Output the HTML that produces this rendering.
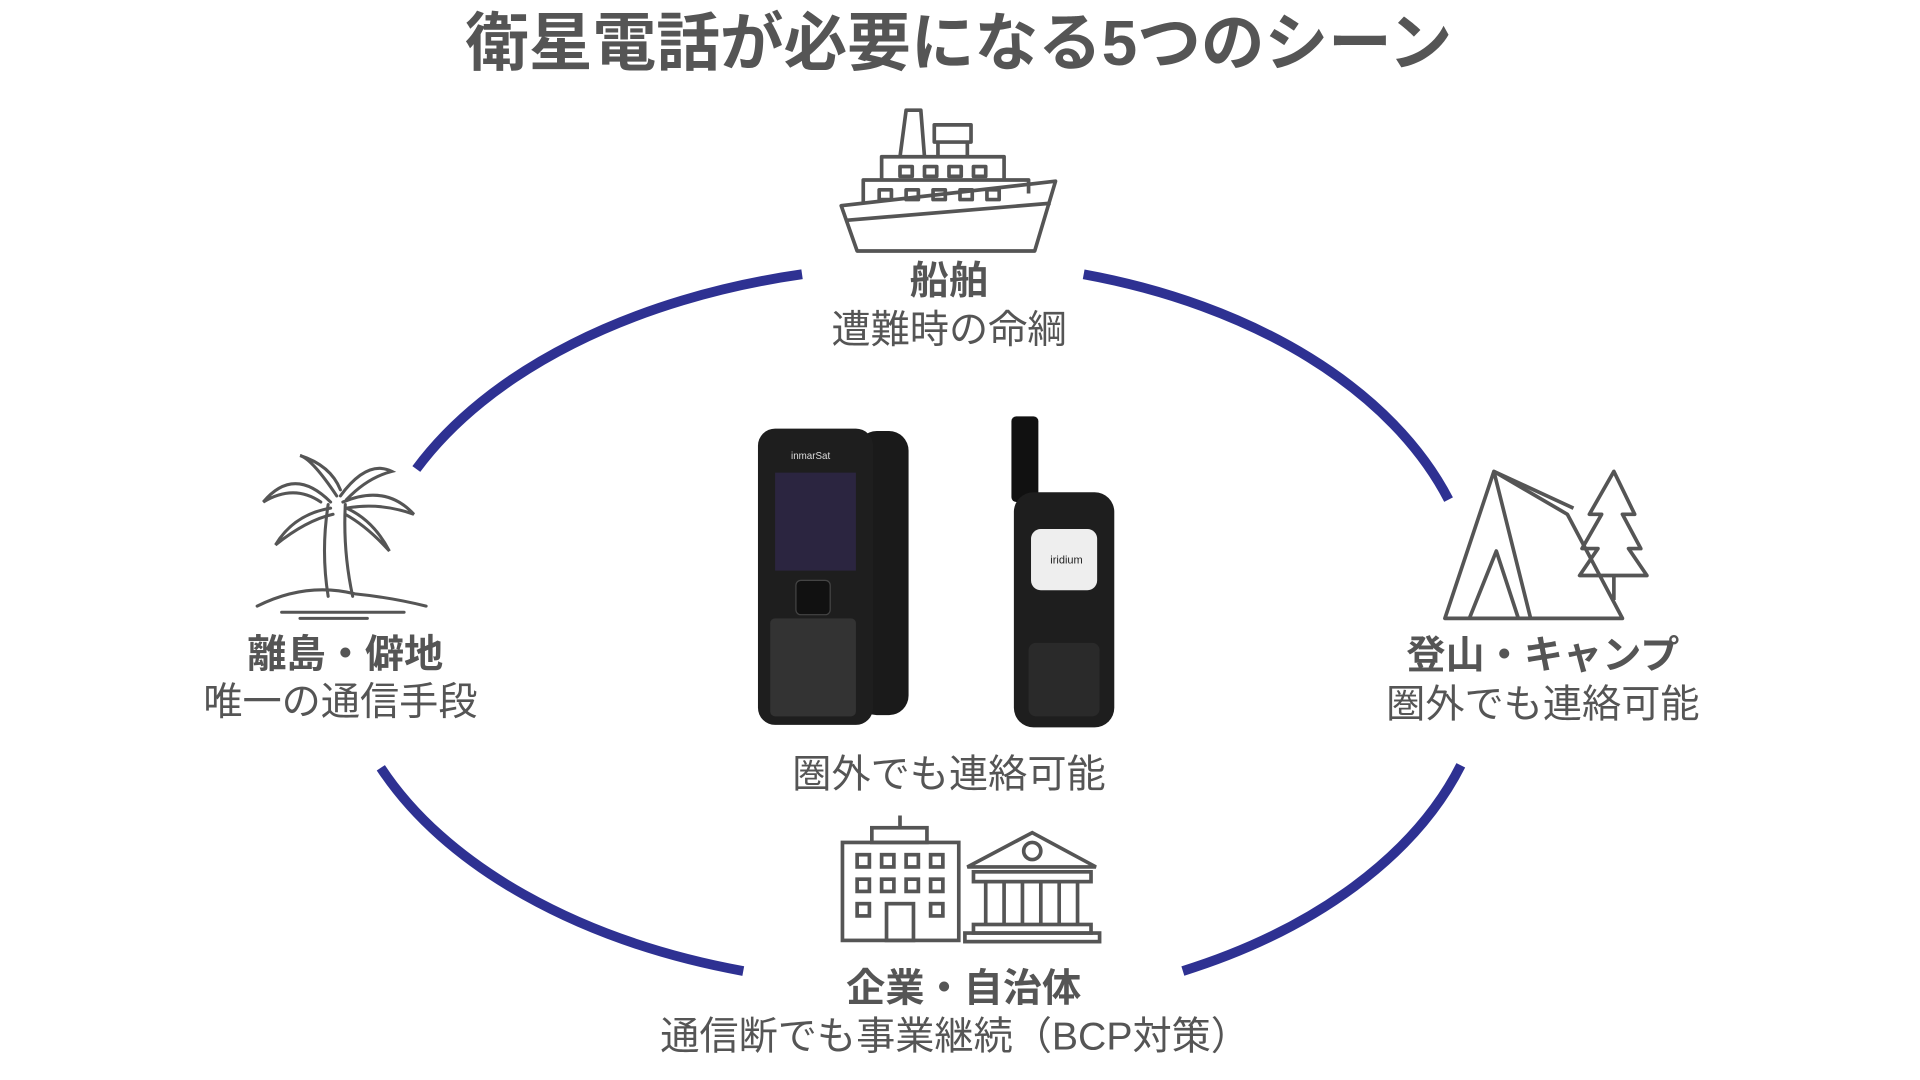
<!DOCTYPE html>
<html><head><meta charset="utf-8"><style>
html,body{margin:0;padding:0;background:#fff;width:1920px;height:1080px;overflow:hidden}
svg{display:block}
text{font-family:"Liberation Sans","Noto Sans CJK JP",sans-serif;fill:#555}
.b{font-weight:bold}
</style></head><body>
<svg width="1920" height="1080" viewBox="0 0 1568 882" xmlns="http://www.w3.org/2000/svg">
<text x="783" y="53" text-anchor="middle" font-size="52" class="b">衛星電話が必要になる5つのシーン</text>

<g fill="none" stroke="#2e3192" stroke-width="8">
<path d="M340,383 A460 285 0 0 1 655,224"/>
<path d="M885,224 A440 285 0 0 1 1183,408"/>
<path d="M311,627 A460 285 0 0 0 607,793"/>
<path d="M966,793 A440 285 0 0 0 1193,625"/>
</g>

<!-- ship -->
<g fill="none" stroke="#555" stroke-width="3" stroke-linejoin="round">
<path d="M687,168 L862,148 L845,205 L700,205 Z"/>
<path d="M690,180 L858,166"/>
<path d="M705,165 L705,147 L840,147 L840,158"/>
<path d="M720,147 L720,128 L820,128 L820,147"/>
<path d="M735,128 L740,90 L752,90 L755,128"/>
<rect x="763" y="102" width="30" height="14"/>
<path d="M766,116 L766,128 M790,116 L790,128"/>
<rect x="735" y="136" width="10" height="8"/><rect x="755" y="136" width="10" height="8"/><rect x="775" y="136" width="10" height="8"/><rect x="795" y="136" width="10" height="8"/>
<rect x="718" y="155" width="10" height="8"/><rect x="740" y="155" width="10" height="8"/><rect x="762" y="155" width="10" height="8"/><rect x="784" y="155" width="10" height="8"/><rect x="806" y="155" width="10" height="8"/>
</g>
<text x="775" y="240" text-anchor="middle" font-size="32" class="b">船舶</text>
<text x="775" y="280" text-anchor="middle" font-size="32">遭難時の命綱</text>

<!-- palm -->
<g fill="none" stroke="#555" stroke-width="2.5" stroke-linecap="round">
<path d="M268,412 Q262,450 268,487 M282,412 Q280,450 288,487"/>
<path d="M270,410 Q240,380 215,410 Q240,395 262,410"/>
<path d="M275,405 Q255,375 245,372 Q270,380 278,400"/>
<path d="M278,405 Q300,375 320,385 Q300,390 283,408"/>
<path d="M280,410 Q315,395 338,420 Q310,410 283,415"/>
<path d="M270,415 Q240,420 225,445 Q250,425 272,420"/>
<path d="M283,415 Q305,425 318,450 Q300,430 282,420"/>
<path d="M210,495 Q250,475 290,485 Q320,488 348,495"/>
<path d="M230,500 L330,500 M245,505 L300,505"/>
</g>
<text x="282" y="545" text-anchor="middle" font-size="32" class="b">離島・僻地</text>
<text x="278" y="584" text-anchor="middle" font-size="32">唯一の通信手段</text>

<!-- tent -->
<g fill="none" stroke="#555" stroke-width="3" stroke-linejoin="round">
<path d="M1220,385 L1180,505 L1325,505 L1280,420 Z"/>
<path d="M1220,385 L1250,505 M1220,385 L1285,415"/>
<path d="M1200,505 L1222,450 L1240,505"/>
<path d="M1318,385 L1298,420 L1308,420 L1292,448 L1305,448 L1290,470 L1345,470 L1330,448 L1340,448 L1325,420 L1335,420 Z"/>
<path d="M1318,470 L1318,490"/>
</g>
<text x="1260" y="546" text-anchor="middle" font-size="32" class="b">登山・キャンプ</text>
<text x="1260" y="586" text-anchor="middle" font-size="32">圏外でも連絡可能</text>

<!-- phones -->
<rect x="700" y="352" width="42" height="232" rx="16" fill="#1a1a1a"/>
<rect x="619" y="350" width="94" height="242" rx="14" fill="#1e1e1e"/>
<text x="662" y="375" text-anchor="middle" font-size="8" style="fill:#ddd">inmarSat</text>
<rect x="633" y="386" width="66" height="80" fill="#2b2540"/>
<g fill="#333"><rect x="629" y="505" width="70" height="80" rx="4"/></g>
<rect x="650" y="474" width="28" height="28" rx="4" fill="#111" stroke="#444"/>
<rect x="826" y="340" width="22" height="70" rx="4" fill="#111"/>
<rect x="828" y="402" width="82" height="192" rx="16" fill="#1e1e1e"/>
<rect x="842" y="432" width="54" height="50" rx="8" fill="#eee"/>
<text x="871" y="460" text-anchor="middle" font-size="9" style="fill:#222">iridium</text>
<rect x="840" y="525" width="58" height="60" rx="6" fill="#2a2a2a"/>

<text x="775" y="643" text-anchor="middle" font-size="32">圏外でも連絡可能</text>

<!-- buildings -->
<g fill="none" stroke="#555" stroke-width="3">
<rect x="688" y="688" width="95" height="80"/>
<rect x="712" y="676" width="45" height="12"/>
<path d="M735,666 L735,676"/>
<rect x="700" y="698" width="10" height="10"/><rect x="720" y="698" width="10" height="10"/><rect x="740" y="698" width="10" height="10"/><rect x="760" y="698" width="10" height="10"/>
<rect x="700" y="718" width="10" height="10"/><rect x="720" y="718" width="10" height="10"/><rect x="740" y="718" width="10" height="10"/><rect x="760" y="718" width="10" height="10"/>
<rect x="700" y="738" width="10" height="10"/><rect x="760" y="738" width="10" height="10"/>
<rect x="724" y="738" width="22" height="30"/>
<path d="M790,708 L843,680 L895,708 Z"/>
<circle cx="843" cy="695" r="7"/>
<rect x="795" y="712" width="96" height="8"/>
<path d="M805,720 L805,755 M820,720 L820,755 M835,720 L835,755 M850,720 L850,755 M865,720 L865,755 M880,720 L880,755"/>
<rect x="795" y="755" width="96" height="7"/><rect x="788" y="762" width="110" height="7"/>
</g>
<text x="787" y="818" text-anchor="middle" font-size="32" class="b">企業・自治体</text>
<text x="780" y="857" text-anchor="middle" font-size="32">通信断でも事業継続（BCP対策）</text>
</svg>
</body></html>
